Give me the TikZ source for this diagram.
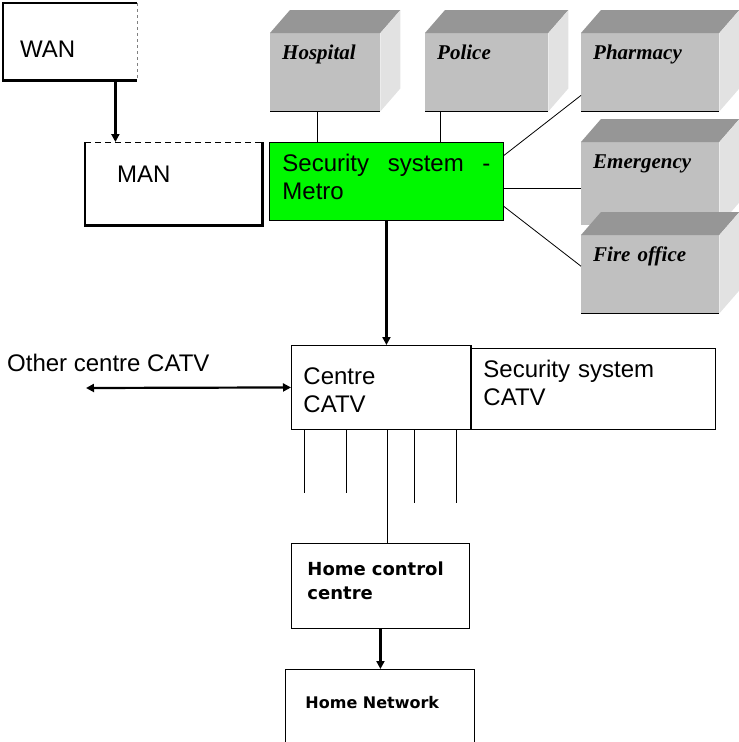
\documentclass[tikz,border=0pt]{standalone}
\usepackage{fontspec}
\usepackage{xcolor}
\usepackage{tikz}
\usetikzlibrary{arrows.meta,calc}
\newfontfamily\arialf{Liberation Sans}
\newfontfamily\timesf{Liberation Serif}
\newfontfamily\dejaf{DejaVu Sans}
\definecolor{frontgray}{RGB}{192,192,192}
\definecolor{topgray}{RGB}{150,150,150}
\definecolor{sidegray}{RGB}{226,226,226}
\definecolor{metrogreen}{RGB}{0,248,0}

\begin{document}
\begin{tikzpicture}[x=1pt, y=-1pt,
  box/.style={anchor=north west, inner ysep=0pt, align=left, font=\arialf\fontsize{24}{28.5}\selectfont},
  thinbox/.style={box, draw, line width=0.9pt},
  homebox/.style={thinbox, font=\dejaf\bfseries\fontsize{18}{24.5}\selectfont},
  cube/.style={anchor=north west, fill=frontgray, inner xsep=12pt, inner ysep=0pt, align=left,
    text height=26pt, font=\timesf\bfseries\itshape\fontsize{21}{25}\selectfont},
  link/.style={line width=0.8pt},
  arr/.style={->, >={Triangle[length=8pt,width=8pt]}, line width=2.2pt}]
\useasboundingbox (0,0) rectangle (739,742);
\clip (0,0) rectangle (739,742);
% services around the metro system
\node[cube, text width=86pt, text depth=52pt] (hosp) at (270,33) {Hospital};
\node[cube, text width=99pt, text depth=52pt] (pol) at (425,33) {Police};
\node[cube, text width=114pt, text depth=52pt] (pharm) at (581,33) {Pharmacy};
\node[cube, text width=114pt, text depth=57pt] (emerg) at (581,142) {Emergency};
\node[cube, text width=114pt, text depth=52pt] (fire) at (581,235) {Fire office};
\foreach \b in {hosp,pol,pharm,emerg,fire}{
  \fill[topgray] (\b.north west) -- ++(20,-23) -- ($(\b.north east)+(20,-23)$) -- (\b.north east) -- cycle;
  \fill[sidegray] (\b.north east) -- ++(20,-23) -- ($(\b.south east)+(20,-23)$) -- (\b.south east) -- cycle;
}
\foreach \b in {hosp,pol,pharm,fire}
  \draw[line width=1.2pt] (\b.south west) -- (\b.south east);
% networks
\node[box, text width=100pt, inner xsep=17pt, text height=54pt, text depth=23pt] (wan) at (3,3) {WAN};
\draw[line width=2.4pt] (wan.north east) -- (wan.north west) -- (wan.south west) -- (wan.south east);
\draw[dashed, gray, line width=0.8pt] (wan.north east) -- (wan.south east);
\node[box, text width=113pt, inner xsep=32pt, text height=40pt, text depth=43pt] (man) at (85,142) {MAN};
\draw[line width=2.4pt] (man.north west) -- (man.south west) -- (man.south east) -- (man.north east);
\draw[line width=0.9pt, dash pattern=on 6pt off 4pt] (man.north west) -- (man.north east);
\node[thinbox, fill=metrogreen, text width=208pt, inner xsep=13pt, text height=29pt, text depth=49pt] (sec) at (269,142)
  {Security\hfill system\hfill -\\Metro};
% CATV level
\node[thinbox, text width=219pt, inner xsep=13pt, text height=28.6pt, text depth=52.4pt] (scatv) at (470,348)
  {Security system\\CATV};
\node[thinbox, text width=155pt, inner xsep=12pt, text height=38.6pt, text depth=45.4pt] (ccatv) at (291,345)
  {Centre\\CATV};
\draw[line width=2.6pt] (ccatv.north east) -- (ccatv.south east);
\node[box, anchor=west, inner sep=0pt] (other) at (7,363) {Other centre CATV};
\coordinate (oend) at (86,388);
% home
\node[homebox, text width=146pt, inner xsep=16pt, text height=32pt, text depth=53pt] (hcc) at (291,543)
  {Home control\\centre};
\node[homebox, font=\dejaf\bfseries\fontsize{16}{22}\selectfont, align=flush left, text width=149pt, inner xsep=20pt,
  text height=39.5pt, text depth=55pt] (hnet) at (285,669) {Home Network};
% connectors
\draw[arr] (wan.south east) ++(-22,0) coordinate (w1) -- (w1 |- man.north);
\draw[link] (hosp.south) ++(-8,0) coordinate (h1) -- (h1 |- sec.north);
\draw[link] (pol.south west) ++(15,0) coordinate (p1) -- (p1 |- sec.north);
\draw[link] ([yshift=26pt]sec.east) -- ([yshift=16pt]pharm.south west);
\draw[link] (sec.east) ++(0,7) coordinate (e1) -- (e1 -| emerg.west);
\draw[link] (sec.east) ++(0,25) -- ([yshift=8pt]fire.west);
\draw[arr] (sec.south) -- (sec.south |- ccatv.north);
\draw[arr, <->] (oend) -- (ccatv.west);
\foreach \dx/\len in {13/63,55/63,123/73,165/73}
  \draw[link] (ccatv.south west) ++(\dx,0) -- ++(0,\len);
\draw[link] (ccatv.south west) ++(96,0) coordinate (c1) -- (c1 |- hcc.north);
\draw[arr] (hcc.south) -- (hcc.south |- hnet.north);
\end{tikzpicture}
\end{document}
